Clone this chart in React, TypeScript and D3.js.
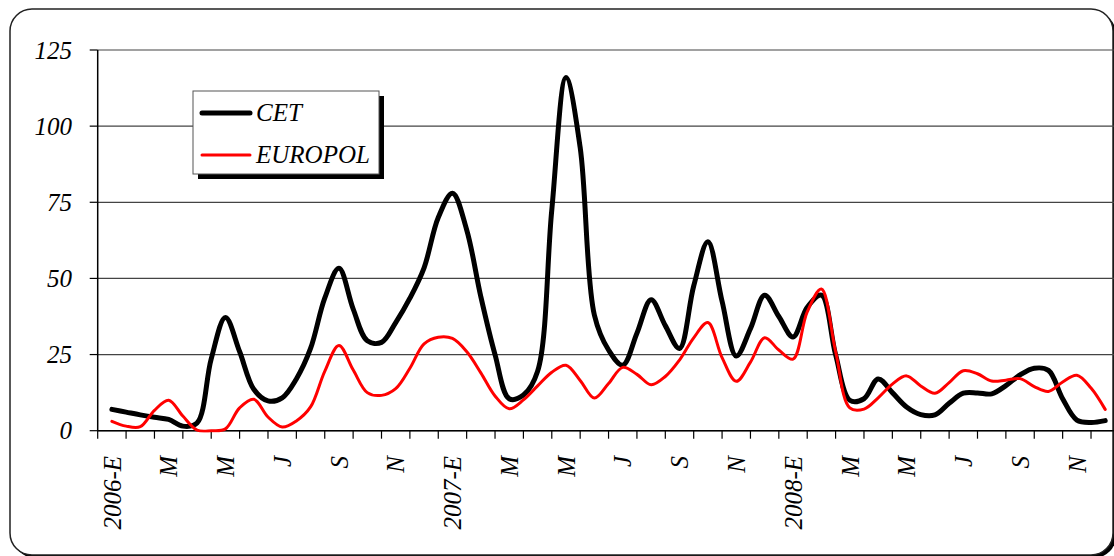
import React, { useEffect } from 'react';
import * as d3 from 'd3';

// month categories (Spanish initials), Jan 2006 .. Dec 2008
const monthLabels = [
  '2006-E', 'F', 'M', 'A', 'M', 'J', 'J', 'A', 'S', 'O', 'N', 'D',
  '2007-E', 'F', 'M', 'A', 'M', 'J', 'J', 'A', 'S', 'O', 'N', 'D',
  '2008-E', 'F', 'M', 'A', 'M', 'J', 'J', 'A', 'S', 'O', 'N', 'D',
];

// semi-monthly readings, first point = mid January 2006
const cetValues = [
  7.0, 6.1, 5.2, 4.4, 3.7, 1.5, 2.5, 23.6, 37.2, 26, 13.6, 9.8,
  10.8, 17, 27, 43.5, 53.3, 40, 29.5, 29, 35.5, 43.5, 53.5, 70,
  78, 66, 44, 25, 10.5, 11.7, 19.5, 72.5, 116, 93, 38, 26.5,
  21.5, 32, 43, 34.5, 27, 47.5, 62, 42.5, 24.5, 33.5, 44.5, 37.5,
  30.8, 40.5, 44.5, 25, 10, 10.5, 17, 12.5, 7.8, 5.3, 5.2, 9,
  12.3, 12.4, 12.1, 14.8, 18.3, 20.5, 19.8, 10.5, 3.5, 2.7, 3.3,
];

const europolValues = [
  3.1, 1.5, 1.3, 6.7, 10.0, 4.8, 0.2, 0, 0.6, 7.5, 10.3, 4.5,
  1.2, 3.2, 7.8, 19.5, 28, 20, 12.5, 11.6, 13.8, 20.5, 28.5, 30.7,
  30.3, 26, 19, 11.4, 7.2, 10.1, 14.7, 19.2, 21.5, 16.5, 10.7, 15.5,
  20.8, 18.5, 15.1, 17.8, 23.2, 30.5, 35.5, 24, 16.2, 22.5, 30.5, 26.5,
  23.5, 39, 46.5, 26, 7.5, 7.1, 10.8, 15.3, 18, 14.7, 12.3, 15.8,
  19.7, 18.7, 16.3, 16.6, 17.1, 14.5, 12.9, 16, 18.2, 14, 7,
];

const yTicks = [0, 25, 50, 75, 100, 125];

const seriesList = [
  { name: 'CET', values: cetValues, color: '#000000', width: 5 },
  { name: 'EUROPOL', values: europolValues, color: '#ff0000', width: 3 },
];

const W = 1114;
const H = 556;
const font = '"Liberation Serif", "Times New Roman", serif';

const App: React.FC = () => {
  useEffect(() => {
    document.body.style.margin = '0';
  }, []);

  const left = 97.7;
  const right = 1119.4;
  const top = 50;
  const bottom = 430.7;

  const x = d3.scaleLinear().domain([0, monthLabels.length]).range([left, right]);
  const y = d3.scaleLinear().domain([0, 125]).range([bottom, top]);

  const line = d3
    .line<number>()
    .x((_, i) => x(i / 2 + 0.5))
    .y(d => y(d))
    .curve(d3.curveCatmullRom.alpha(0.5));

  return (
    <svg width={W} height={H} style={{ display: 'block' }}>
      <defs>
        <clipPath id="plotclip">
          <rect x={left} y={top - 10} width={W - left} height={bottom - top + 12} />
        </clipPath>
      </defs>
      {/* frame with shadow */}
      <rect x={13} y={12} width={1103} height={546} rx={22} fill="#000" />
      <rect x={10} y={9} width={1103} height={546} rx={22} fill="#fff" stroke="#222" strokeWidth={1.5} />

      {/* gridlines */}
      {yTicks.map(t => (
        <line key={'g' + t} x1={left} x2={W} y1={y(t)} y2={y(t)} stroke="#444" strokeWidth={1.2} />
      ))}
      {/* y axis */}
      <line x1={left} x2={left} y1={top} y2={bottom} stroke="#000" strokeWidth={1.5} />
      {yTicks.map(t => (
        <g key={'y' + t}>
          <line x1={left - 8} x2={left} y1={y(t)} y2={y(t)} stroke="#000" strokeWidth={1.2} />
          <text
            x={72}
            y={y(t)}
            dy="0.35em"
            textAnchor="end"
            fontFamily={font}
            fontStyle="italic"
            fontSize={25}
          >
            {t}
          </text>
        </g>
      ))}
      {/* x axis */}
      <line x1={left} x2={W} y1={bottom} y2={bottom} stroke="#000" strokeWidth={1.5} />
      {d3.range(monthLabels.length + 1).map(m => (
        <line key={'xt' + m} x1={x(m)} x2={x(m)} y1={bottom} y2={bottom + 8} stroke="#000" strokeWidth={1.2} />
      ))}
      {monthLabels.map((lab, m) =>
        m % 2 === 0 ? (
          <text
            key={'xl' + m}
            transform={`translate(${x(m + 0.5)},456) rotate(-90)`}
            dy="0.35em"
            textAnchor="end"
            fontFamily={font}
            fontStyle="italic"
            fontSize={25}
          >
            {lab}
          </text>
        ) : null
      )}

      {/* series */}
      <g clipPath="url(#plotclip)">
        {seriesList.map(s => (
          <path
            key={s.name}
            d={line(s.values) ?? ''}
            fill="none"
            stroke={s.color}
            strokeWidth={s.width}
            strokeLinejoin="round"
            strokeLinecap="round"
          />
        ))}
      </g>

      {/* legend */}
      <rect x={198} y={96} width={186} height={83} fill="#000" />
      <rect x={193} y={91} width={186} height={83} fill="#fff" stroke="#555" strokeWidth={1} />
      {seriesList.map((s, i) => (
        <g key={'lg' + s.name} transform={`translate(0,${113 + i * 42})`}>
          <line x1={202} x2={250} y1={0} y2={0} stroke={s.color} strokeWidth={s.width} strokeLinecap="round" />
          <text x={256} y={0} dy="0.33em" fontFamily={font} fontStyle="italic" fontSize={25}>
            {s.name}
          </text>
        </g>
      ))}
    </svg>
  );
};

export default App;
